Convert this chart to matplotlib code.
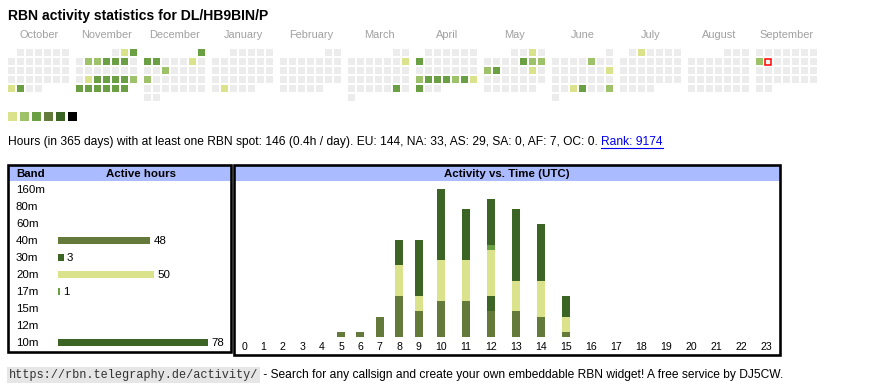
import datetime as dt
import matplotlib
matplotlib.use("Agg")
import matplotlib.pyplot as plt
from matplotlib.patches import Rectangle
from matplotlib.transforms import blended_transform_factory, IdentityTransform
from matplotlib import font_manager

# ---------------- data ----------------
title = "RBN activity statistics for DL/HB9BIN/P"
month_names = ["October", "November", "December", "January", "February", "March",
               "April", "May", "June", "July", "August", "September"]
month_years = [2024, 2024, 2024, 2025, 2025, 2025, 2025, 2025, 2025, 2025, 2025, 2025]
month_numbers = [10, 11, 12, 1, 2, 3, 4, 5, 6, 7, 8, 9]

active_dates = [
    "2024-10-28", "2024-10-29",
    "2024-11-02", "2024-11-03", "2024-11-05", "2024-11-06", "2024-11-07", "2024-11-08",
    "2024-11-09", "2024-11-19", "2024-11-20", "2024-11-21", "2024-11-22", "2024-11-23",
    "2024-11-24", "2024-11-25", "2024-11-26", "2024-11-27", "2024-11-28", "2024-11-29",
    "2024-11-30",
    "2024-12-01", "2024-12-02", "2024-12-03", "2024-12-07", "2024-12-11", "2024-12-16",
    "2025-01-28",
    "2025-03-09", "2025-03-29",
    "2025-04-07", "2025-04-21", "2025-04-22", "2025-04-23", "2025-04-24", "2025-04-25",
    "2025-04-26", "2025-04-27", "2025-04-28",
    "2025-05-03", "2025-05-09", "2025-05-10", "2025-05-11", "2025-05-12", "2025-05-13",
    "2025-05-17",
    "2025-06-06", "2025-06-15", "2025-06-25", "2025-06-26", "2025-06-29",
    "2025-07-02",
    "2025-09-08",
]
active_levels = [
    1, 3,
    1, 3, 2, 2, 3, 3,
    3, 1, 3, 3, 3, 3,
    2, 3, 3, 3, 3, 3,
    3,
    3, 3, 3, 1, 2, 2,
    1,
    1, 3,
    3, 2, 3, 3, 3, 2,
    3, 1, 3,
    1, 3, 2, 2, 2, 3,
    1,
    2, 1, 1, 3, 2,
    1,
    2,
]
today = "2025-09-09"
level_colors = ["#dae28b", "#9dc26a", "#6aa043", "#647a3a", "#3c6424", "#000000"]
empty_color = "#ececec"

summary_text = ("Hours (in 365 days) with at least one RBN spot: 146 (0.4h / day). "
                "EU: 144, NA: 33, AS: 29, SA: 0, AF: 7, OC: 0. ")
rank_text = "Rank: 9174"

bands = ["160m", "80m", "60m", "40m", "30m", "20m", "17m", "15m", "12m", "10m"]
band_hours = [0, 0, 0, 48, 3, 50, 1, 0, 0, 78]
band_colors = ["#7a4f8a", "#4f6fa8", "#a86b4f", "#647a3a", "#3c6424", "#dae28b",
               "#6aa043", "#8aa8c8", "#c8a04f", "#3c6424"]

hours = list(range(24))
act_40m = [0, 0, 0, 0, 0, 1, 1, 4, 8, 5, 7, 7, 5, 5, 4, 1, 0, 0, 0, 0, 0, 0, 0, 0]
act_30m = [0, 0, 0, 0, 0, 0, 0, 0, 0, 0, 0, 0, 3, 0, 0, 0, 0, 0, 0, 0, 0, 0, 0, 0]
act_20m = [0, 0, 0, 0, 0, 0, 0, 0, 6, 3, 8, 8, 9, 6, 7, 3, 0, 0, 0, 0, 0, 0, 0, 0]
act_17m = [0, 0, 0, 0, 0, 0, 0, 0, 0, 0, 0, 0, 1, 0, 0, 0, 0, 0, 0, 0, 0, 0, 0, 0]
act_10m = [0, 0, 0, 0, 0, 0, 0, 0, 5, 11, 14, 10, 9, 14, 11, 4, 0, 0, 0, 0, 0, 0, 0, 0]
act_series = [("40m", act_40m), ("30m", act_30m), ("20m", act_20m),
              ("17m", act_17m), ("10m", act_10m)]

footer_url = "https://rbn.telegraphy.de/activity/"
footer_text = " - Search for any callsign and create your own embeddable RBN widget! A free service by DJ5CW."

# ---------------- style ----------------
W, H = 870, 390
PT = 0.72  # px -> pt at dpi 100
SANS = ["Liberation Sans", "DejaVu Sans"]
MONO = ["Liberation Mono", "DejaVu Sans Mono"]
plt.rcParams["font.family"] = SANS
HEADER_BLUE = "#aabbff"

fig = plt.figure(figsize=(W / 100, H / 100), dpi=100)
ax0 = fig.add_axes([0, 0, 1, 1])
ax0.set_xlim(0, W)
ax0.set_ylim(H, 0)
ax0.axis("off")
PXY = blended_transform_factory(IdentityTransform(), ax0.transData)


def px_axes(x0, y0, x1, y1):
    a = fig.add_axes([x0 / W, 1 - y1 / H, (x1 - x0) / W, (y1 - y0) / H])
    a.patch.set_alpha(0)
    return a


# ---------------- title ----------------
ax0.text(8, 20, title, fontsize=14 * PT, fontweight="bold", va="baseline", ha="left")

# ---------------- calendar heatmap ----------------
CELL, STEP, BLOCK, X0, Y0 = 7, 9, 68, 8, 49
level_of = {d: l for d, l in zip(active_dates, active_levels)}
for mi, (mname, yr, mn) in enumerate(zip(month_names, month_years, month_numbers)):
    bx = X0 + BLOCK * mi
    ax0.text(bx + 31, 38, mname, fontsize=11 * PT, color="#a0a0a0", ha="center", va="baseline")
    first = dt.date(yr, mn, 1)
    nxt = dt.date(yr + (mn == 12), mn % 12 + 1, 1)
    ndays = (nxt - first).days
    off = first.weekday()
    for d in range(1, ndays + 1):
        key = f"{yr:04d}-{mn:02d}-{d:02d}"
        idx = d - 1 + off
        col, row = idx % 7, idx // 7
        x, y = bx + col * STEP, Y0 + row * STEP
        lvl = level_of.get(key)
        fc = level_colors[lvl - 1] if lvl else empty_color
        if key == today:
            ax0.add_patch(Rectangle((x + 0.5, y + 0.5), CELL - 1, CELL - 1, facecolor="#f4f4f4",
                                    edgecolor="#ff0000", lw=1.1))
        else:
            ax0.add_patch(Rectangle((x, y), CELL, CELL, facecolor=fc, edgecolor="none"))

# legend squares
for i, c in enumerate(level_colors):
    ax0.add_patch(Rectangle((8 + 12 * i, 111.5), 9.5, 9.5, facecolor=c, edgecolor="none"))

# ---------------- summary line ----------------
fig.canvas.draw()
renderer = fig.canvas.get_renderer()
t = ax0.text(8, 145, summary_text, fontsize=12 * PT, va="baseline", ha="left")
bb = t.get_window_extent(renderer)
rt = ax0.text(bb.x1, 145, rank_text, fontsize=12 * PT, va="baseline", ha="left", color="#0000ee",
              transform=PXY)
rb = rt.get_window_extent(renderer)
ax0.plot([rb.x0, rb.x1], [147.5, 147.5], color="#0000ee", lw=0.8, transform=PXY)

# ---------------- band table ----------------
LB = (8.5, 164.5, 231.5, 351.5)
ax0.add_patch(Rectangle((LB[0], 165.5), LB[2] - LB[0], 15, facecolor=HEADER_BLUE, edgecolor="none"))
ax0.add_patch(Rectangle((LB[0], LB[1]), LB[2] - LB[0], LB[3] - LB[1], facecolor="none",
                        edgecolor="black", lw=2.6 * PT, zorder=5))
ax0.text(16, 177.3, "Band", fontsize=11.5 * PT, fontweight="bold", va="baseline")
ax0.text(141.5, 177.3, "Active hours", fontsize=11.5 * PT, fontweight="bold", va="baseline", ha="center")

axb = px_axes(58, 180.5, 208, 350.5)
bmax = max(band_hours)
axb.set_xlim(0, bmax)
axb.set_ylim(len(bands) - 0.5, -0.5)
ypos = list(range(len(bands)))
axb.barh(ypos, band_hours, height=7 / 17, color=band_colors, edgecolor="none")
axb.axis("off")
tr = blended_transform_factory(ax0.transData, axb.transData)
for i, (b, v) in enumerate(zip(bands, band_hours)):
    ax0.text(16, i + 0.25, b, fontsize=11.5 * PT, va="baseline", ha="left", transform=tr)
    if v > 0:
        axb.annotate(str(v), (v, i + 0.25), xytext=(3, 0), textcoords="offset pixels",
                     fontsize=11.5 * PT, va="baseline", ha="left", annotation_clip=False)

# ---------------- activity vs time ----------------
RB = (234, 164.5, 780.5, 355)
ax0.add_patch(Rectangle((RB[0], 165.5), RB[2] - RB[0], 15, facecolor=HEADER_BLUE, edgecolor="none"))
ax0.add_patch(Rectangle((RB[0], RB[1]), RB[2] - RB[0], RB[3] - RB[1], facecolor="none",
                        edgecolor="black", lw=2.6 * PT, zorder=5))
ax0.text((RB[0] + RB[2]) / 2, 177.3, "Activity vs. Time (UTC)", fontsize=11.5 * PT,
         fontweight="bold", va="baseline", ha="center")

# table-like column layout: columns sized by their label text
inner_l, inner_r = 234.3, 778.5
digit_w = 5.6
tw = [len(str(h)) * digit_w for h in hours]
pad = (inner_r - inner_l - sum(tw)) / len(hours)
centers, acc = [], inner_l
for w in tw:
    centers.append(acc + (w + pad) / 2)
    acc += w + pad

axa = px_axes(inner_l, 181, inner_r, 337)
axa.set_xlim(inner_l, inner_r)
axa.set_ylim(0, 156 / 5.12)
bottom = [0] * 24
for (bname, vals) in act_series:
    c = band_colors[bands.index(bname)]
    axa.bar(centers, vals, bottom=bottom, width=8, color=c, edgecolor="none")
    bottom = [b + v for b, v in zip(bottom, vals)]
for s in axa.spines.values():
    s.set_visible(False)
axa.set_yticks([])
axa.set_xticks(centers, [str(h) for h in hours], fontsize=10.5 * PT)
axa.tick_params(axis="x", length=0, pad=4.5 * PT)

# ---------------- footer ----------------
ft = ax0.text(9, 378, footer_url, family=MONO, fontsize=11.9 * PT, va="baseline", ha="left",
              color="#333333",
              bbox=dict(boxstyle="square,pad=0.15", facecolor="#e6e6e6", edgecolor="none"))
fb = ft.get_window_extent(renderer)
ax0.text(fb.x1 + 2, 378, footer_text, fontsize=12 * PT, va="baseline", ha="left", transform=PXY)

fig.savefig("out.png", dpi=100)
